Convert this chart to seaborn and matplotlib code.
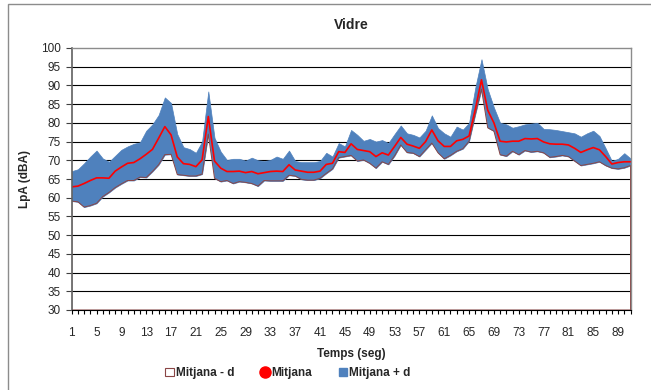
import numpy as np
import pandas as pd
import matplotlib
matplotlib.use("Agg")
import matplotlib.pyplot as plt
import seaborn as sns
from matplotlib.patches import Patch, Rectangle
from matplotlib.lines import Line2D

# ---- data -------------------------------------------------------------
temps = list(range(1, 92))

mitjana_mes_d = [
    67.1, 67.6, 69.2, 71.0, 72.6, 70.5, 69.6, 71.2, 72.8, 73.7,
    74.4, 74.8, 77.9, 79.6, 82.1, 86.8, 85.3, 77.0, 73.5, 73.0,
    72.0, 75.0, 88.4, 76.0, 72.3, 70.1, 70.4, 70.4, 69.9, 70.7,
    70.0, 69.8, 70.1, 71.0, 70.4, 72.6, 69.8, 69.5, 69.5, 69.5,
    69.8, 72.0, 71.0, 74.6, 73.7, 78.1, 76.8, 75.2, 75.7, 75.0,
    75.4, 74.6, 77.0, 79.3, 77.2, 76.8, 76.1, 77.9, 82.0, 78.6,
    77.2, 76.3, 79.0, 78.2, 80.0, 89.4, 97.0, 89.0, 84.1, 80.0,
    79.6, 78.7, 79.1, 79.6, 79.8, 80.0, 78.4, 78.3, 78.1, 77.8,
    77.5, 77.2, 76.3, 77.2, 77.9, 76.5, 73.2, 69.8, 70.4, 71.9,
    70.5,
]

mitjana = [
    62.9, 63.1, 63.8, 64.6, 65.3, 65.3, 65.2, 67.1, 68.2, 69.2,
    69.4, 70.4, 71.6, 72.9, 75.9, 79.0, 76.8, 70.9, 69.1, 68.9,
    68.3, 70.1, 81.7, 69.8, 67.9, 67.0, 67.0, 67.1, 66.7, 67.0,
    66.4, 66.7, 67.0, 67.1, 67.0, 68.8, 67.4, 67.1, 66.8, 66.8,
    67.1, 68.9, 69.2, 72.3, 72.1, 74.4, 72.9, 72.6, 72.3, 71.0,
    72.0, 71.4, 73.7, 76.1, 74.3, 73.8, 73.2, 75.0, 78.1, 75.2,
    73.7, 73.7, 75.2, 75.6, 76.5, 83.6, 91.5, 83.4, 80.0, 75.1,
    74.9, 75.1, 75.1, 75.8, 75.7, 75.8, 74.9, 74.4, 74.3, 74.3,
    74.1, 73.2, 72.1, 72.8, 73.4, 72.8, 71.0, 69.0, 69.4, 69.6,
    69.6,
]

mitjana_menys_d = [
    59.1, 58.9, 57.5, 57.9, 58.5, 60.3, 61.4, 62.7, 63.7, 64.6,
    64.6, 65.5, 65.4, 67.0, 68.8, 71.5, 71.6, 66.2, 66.0, 65.8,
    65.8, 66.3, 77.0, 65.2, 64.3, 64.6, 63.8, 64.3, 64.1, 63.8,
    63.1, 64.6, 64.5, 64.5, 64.5, 66.0, 65.8, 64.9, 64.7, 64.7,
    65.2, 66.5, 67.7, 70.7, 71.0, 71.3, 69.8, 70.1, 69.2, 67.9,
    69.6, 68.9, 71.2, 74.1, 72.1, 71.9, 71.0, 72.8, 74.6, 72.0,
    70.4, 71.3, 72.4, 73.1, 75.1, 82.3, 89.0, 78.7, 77.8, 71.5,
    71.1, 72.4, 71.5, 72.6, 72.2, 72.4, 72.0, 70.8, 71.0, 71.3,
    71.0, 69.8, 68.6, 68.9, 69.2, 69.6, 68.6, 67.9, 67.7, 68.0,
    68.6,
]

y_ticks = list(range(30, 101, 5))
x_tick_labels = list(range(1, 90, 4))

df = pd.DataFrame({"Temps": temps, "Mitjana": mitjana,
                   "Menys": mitjana_menys_d, "Mes": mitjana_mes_d})

# ---- style --------------------------------------------------------------
sns.set_theme(style="white")
plt.rcParams["font.family"] = ["Liberation Sans", "DejaVu Sans"]

BLUE = "#4F81BD"
MAROON = "#8A4545"

fig = plt.figure(figsize=(6.51, 3.90), dpi=100)
W, H = 651, 390
ax = fig.add_axes([71.7 / W, 1 - 310 / H, (630.5 - 71.7) / W, (310 - 48) / H])

# blue band between lower and upper (stacked-area look)
ax.fill_between(df["Temps"], df["Menys"], df["Mes"], color=BLUE,
                linewidth=0.5, edgecolor=BLUE, zorder=2)
# lower series: transparent area with maroon outline
ax.fill_between(df["Temps"], 30, df["Menys"], facecolor="none",
                edgecolor=MAROON, linewidth=0.7, zorder=3)
# mean line
sns.lineplot(data=df, x="Temps", y="Mitjana", color="#FF0000",
             linewidth=1.2, ax=ax, zorder=4, legend=False)

ax.set_xlim(1, 91)
ax.set_ylim(30, 100)
ax.set_yticks(y_ticks)
ax.set_xticks(x_tick_labels)
ax.set_xticks(temps, minor=True)
ax.set_xticklabels([str(v) for v in x_tick_labels], fontsize=8.5)
ax.set_yticklabels([str(v) for v in y_ticks], fontsize=8.5)

for y in y_ticks[1:-1]:
    ax.axhline(y, color="black", linewidth=0.8, zorder=1)

ax.tick_params(axis="y", which="major", direction="out", length=4,
               width=0.8, color="#404040", pad=4, left=True)
ax.tick_params(axis="x", which="major", direction="out", length=3,
               width=0.8, color="black", pad=9, bottom=True)
ax.tick_params(axis="x", which="minor", direction="out", length=3,
               width=0.8, color="black", bottom=True)

for side in ["top", "right"]:
    ax.spines[side].set_color("#8C8C8C")
    ax.spines[side].set_linewidth(1.0)
ax.spines["left"].set_color("#606060")
ax.spines["left"].set_linewidth(1.2)
ax.spines["bottom"].set_color("black")
ax.spines["bottom"].set_linewidth(0.8)
for s in ax.spines.values():
    s.set_zorder(5)

ax.set_xlabel("Temps (seg)", fontsize=8.5, fontweight="bold", labelpad=7)
ax.set_ylabel("LpA (dBA)", fontsize=8.5, fontweight="bold", labelpad=7)
fig.text(351 / W, 1 - 25 / H, "Vidre", ha="center", va="center",
         fontsize=10, fontweight="bold")

handles = [
    Patch(facecolor="white", edgecolor=MAROON, linewidth=0.8),
    Line2D([], [], marker="o", color="#FF0000", linestyle="none",
           markersize=8),
    Patch(facecolor=BLUE, edgecolor=BLUE),
]
labels = ["Mitjana - d", "Mitjana", "Mitjana + d"]
fig.legend(handles, labels, loc="center", ncol=3,
           bbox_to_anchor=(288 / W, 1 - 373 / H), frameon=False,
           prop={"size": 8.5, "weight": "bold"}, handlelength=0.7,
           handleheight=0.7, handletextpad=0.15, columnspacing=2.3)

# chart-area border
fig.patches.append(Rectangle((8 / W, -0.05), 1.2, 1.05 - 4 / H,
                             transform=fig.transFigure, fill=False,
                             edgecolor="#8C8C8C", linewidth=1.0))

fig.savefig("out.png", dpi=100)
